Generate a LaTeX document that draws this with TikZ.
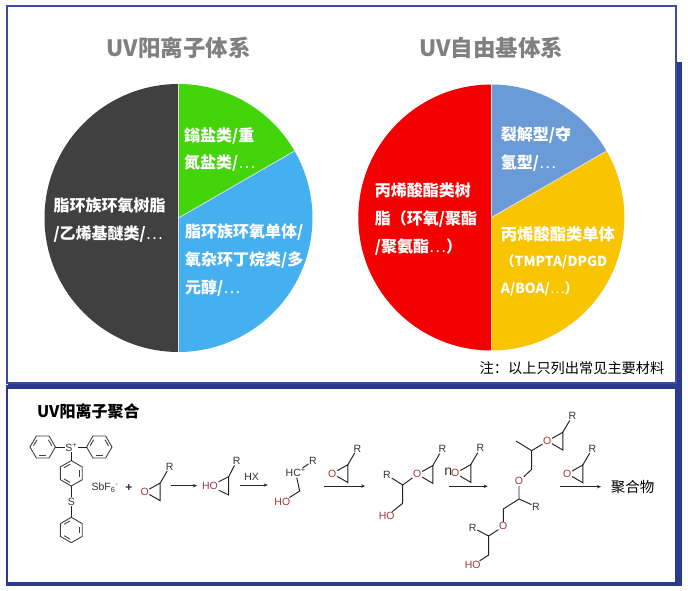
\documentclass[tikz,border=0pt]{standalone}
\usepackage{fontspec}
\setmainfont{Noto Sans CJK SC}
\newfontfamily\chemfont{Liberation Sans}
\usetikzlibrary{arrows.meta,calc}
\definecolor{bandblue}{HTML}{2B3A8C}
\definecolor{framblue}{HTML}{3C4BA6}
\definecolor{bondcol}{HTML}{222222}
\definecolor{oxred}{HTML}{9A3A3A}
\definecolor{slicedark}{HTML}{404040}
\definecolor{slicegreen}{HTML}{44D40A}
\definecolor{sliceblue}{HTML}{45B0F0}
\definecolor{slicered}{HTML}{F50000}
\definecolor{slicesteel}{HTML}{6A9BD6}
\definecolor{sliceyellow}{HTML}{F8C500}
\newcommand{\dotsreg}{{\mdseries ⋯}}
\tikzset{
  slice/.style={draw=white!88!black,line width=0.8pt},
  titletext/.style={font=\fontsize{22.5}{24}\selectfont\bfseries,text=black!50},
  pielabel/.style={anchor=west,inner sep=0pt,align=left,text=white,font=\fontsize{16}{27.8}\selectfont\bfseries},
  bond/.style={draw=bondcol,line width=0.95pt},
  redbond/.style={draw=oxred,line width=0.95pt},
  ring/.style={draw=black!75,line width=0.9pt},
  atom/.style={inner sep=0.6pt,text=black!80,font=\chemfont\fontsize{10.5}{11}\selectfont},
  oxatom/.style={inner sep=0.6pt,text=oxred,font=\chemfont\fontsize{10.5}{11}\selectfont},
  rxarrow/.style={draw=black!85,line width=0.9pt,-{Stealth[length=4pt,width=3.4pt]}},
}
% epoxide: name prefix, position of the O atom
\newcommand{\epoxide}[3]{%
  \begin{scope}[shift={(#2,#3)},name prefix=#1-]
    \node[oxatom] (o) at (0,0) {O};
    \coordinate (a) at (15.5,-8.7);
    \coordinate (b) at (15.5,9);
    \node[atom] (r) at (25,-25) {R};
    \draw[bond] (o) -- (a) -- (b) -- (o);
    \draw[bond] (a) -- (r);
    \draw[redbond] (o) -- ($(o)!.35!(a)$);
    \draw[redbond] (o) -- ($(o)!.35!(b)$);
  \end{scope}}
% phenyl ring: name prefix, centre, rotation
\newcommand{\phenylring}[4]{%
  \begin{scope}[shift={(#2,#3)},name prefix=#1-]
    \foreach \k in {0,...,5}{\coordinate (v\k) at ({60*\k+#4}:12.7);}
    \draw[ring] (v0)--(v1)--(v2)--(v3)--(v4)--(v5)--cycle;
    \foreach \k in {1,3,5}{\draw[ring] ({60*\k+#4+8}:9.2) -- ({60*\k+#4+52}:9.2);}
  \end{scope}}
\begin{document}
\begin{tikzpicture}[x=1pt,y=-1pt]
\useasboundingbox (0,0) rectangle (688,591);
% frames
\fill[bandblue] (676,62) rectangle (682,389);
\fill[bandblue] (8,384) rectangle (682,389);
\fill[white,draw=framblue,line width=1.3pt] (7,6) rectangle (676,383);
\fill[bandblue] (6,385) rectangle (682,586);
\fill[white] (8,389) rectangle (675,582);
% left pie
\node[titletext] (titleL) at (178.7,48) {UV阳离子体系};
\fill[slicedark] (178.5,218) -- (178.5,84) arc[start angle=-90,end angle=-270,radius=134] -- cycle;
\fill[slicegreen] (178.5,218) -- (178.5,84) arc[start angle=-90,end angle=-30,radius=134] -- cycle;
\fill[sliceblue] (178.5,218) -- (294.5,151) arc[start angle=-30,end angle=90,radius=134] -- cycle;
\draw[slice] (178.5,84) -- (178.5,352);
\draw[slice] (178.5,218) -- (294.5,151);
\node[pielabel] (l1) at (53.3,220) {脂环族环氧树脂\\/乙烯基醚类/\dotsreg};
\node[pielabel] (l2) at (184,149.5) {鎓盐类/重\\氮盐类/\dotsreg};
\node[pielabel] (l3) at (185,260) {脂环族环氧单体/\\氧杂环丁烷类/多\\元醇/\dotsreg};
% right pie
\node[titletext] (titleR) at (491.5,48) {UV自由基体系};
\fill[slicered] (491.3,217.5) -- (491.3,84.5) arc[start angle=-90,end angle=-270,radius=133] -- cycle;
\fill[slicesteel] (491.3,217.5) -- (491.3,84.5) arc[start angle=-90,end angle=-30,radius=133] -- cycle;
\fill[sliceyellow] (491.3,217.5) -- (606.5,151) arc[start angle=-30,end angle=90,radius=133] -- cycle;
\draw[slice] (491.3,84.5) -- (491.3,350.5);
\draw[slice] (491.3,217.5) -- (606.5,151);
\node[pielabel] (r1) at (374.7,219) {丙烯酸酯类树\\脂（环氧/聚酯\\/聚氨酯\dotsreg）};
\node[pielabel] (r2) at (500.7,149) {裂解型/夺\\氢型/\dotsreg};
\node[pielabel,font=\fontsize{13.8}{26.5}\selectfont\bfseries] (r3) at (500.7,261) {{\fontsize{16.3}{26.5}\selectfont 丙烯酸酯类单体}\\（TMPTA/DPGD\\A/BOA/\dotsreg）};
\node[inner sep=0pt,anchor=east,font=\fontsize{14.2}{16}\selectfont] (note) at (664.5,368) {注：以上只列出常见主要材料};
% lower panel
\node[inner sep=0pt,anchor=west,font=\fontsize{16}{18}\selectfont\bfseries] (poly) at (37,411.5) {UV阳离子聚合};
% photoinitiator
\phenylring{p1}{42.7}{447}{0}
\phenylring{p2}{99.3}{447}{0}
\phenylring{p3}{71.3}{473.3}{30}
\phenylring{p4}{71.3}{530}{30}
\node[atom] (sp) at (71.3,447) {S\textsuperscript{+}};
\node[atom] (s2) at (71.3,501.7) {S};
\draw[bond] (p1-v0) -- (sp);
\draw[bond] (p2-v3) -- (sp);
\draw[bond] (p3-v4) -- (sp);
\draw[bond] (p3-v1) -- (s2);
\draw[bond] (p4-v4) -- (s2);
\node[atom] (sbf) at (105,488) {SbF\textsubscript{6}\textsuperscript{-}};
\node[atom,font=\chemfont\fontsize{12}{12}\selectfont\bfseries] (plus) at (129,488) {+};
\epoxide{e1}{144.7}{491.7}
\coordinate (a1s) at (171,485.7); \coordinate (a1e) at (197,485.7);
\draw[rxarrow] (a1s) -- (a1e);
% protonated epoxide
\node[oxatom] (e2o) at (210,486) {HO};
\coordinate (e2a) at (228.7,476.7);
\coordinate (e2b) at (228.7,495);
\node[atom] (e2r) at (236.7,461) {R};
\draw[bond] (e2o) -- (e2a) -- (e2b) -- (e2o);
\draw[bond] (e2a) -- (e2r);
\node[atom] (hx) at (251.7,477.3) {HX};
\coordinate (a2s) at (240,485); \coordinate (a2e) at (267.7,485);
\draw[rxarrow] (a2s) -- (a2e);
% carbocation
\node[atom] (hc) at (295.7,472.7) {HC\textsuperscript{+}};
\node[atom] (hcr) at (313,460.7) {R};
\coordinate (hc1) at (299.7,491);
\node[oxatom] (hcoh) at (282.3,502) {HO};
\draw[bond] (hc) -- (hcr);
\draw[bond] (hc) -- (hc1) -- (hcoh);
\epoxide{e3}{332.3}{473.5}
\coordinate (a3s) at (324.3,486); \coordinate (a3e) at (365,486);
\draw[rxarrow] (a3s) -- (a3e);
% dimer
\node[atom] (d1r) at (387,475) {R};
\coordinate (d1c) at (402.7,485);
\coordinate (d1d) at (402.7,503.3);
\node[oxatom] (d1oh) at (386.7,516) {HO};
\epoxide{e4}{417.3}{474.3}
\draw[bond] (d1r) -- (d1c) -- (d1d) -- (d1oh);
\draw[bond] (d1c) -- (e4-o);
\node[atom,font=\chemfont\fontsize{14}{14}\selectfont] (nn) at (448.3,471.5) {n};
\epoxide{e5}{455.3}{473.3}
\coordinate (a4s) at (449,486.3); \coordinate (a4e) at (487.7,486.3);
\draw[rxarrow] (a4s) -- (a4e);
% oligomer
\coordinate (c1) at (516,441);
\coordinate (c2) at (531.7,450.7);
\epoxide{e6}{547.3}{441}
\coordinate (c3) at (531.7,469.3);
\node[oxatom] (o2) at (519,481.3) {O};
\coordinate (c4) at (519,499);
\node[atom] (r2a) at (536,506.7) {R};
\coordinate (c5) at (503.3,509);
\node[oxatom] (o3) at (503.3,526.3) {O};
\coordinate (c6) at (488.7,536);
\node[atom] (r3a) at (472.7,527.7) {R};
\coordinate (c7) at (488.7,555);
\node[oxatom] (oh3) at (472.7,565.3) {HO};
\draw[bond] (c1) -- (c2) -- (e6-o);
\draw[bond] (c2) -- (c3) -- (o2) -- (c4) -- (c5) -- (o3) -- (c6) -- (c7) -- (oh3);
\draw[bond] (c4) -- (r2a);
\draw[bond] (c6) -- (r3a);
\epoxide{e7}{567.3}{473.7}
\coordinate (a5s) at (560,486.7); \coordinate (a5e) at (601,486.7);
\draw[rxarrow] (a5s) -- (a5e);
\node[inner sep=0pt,font=\fontsize{14.5}{16}\selectfont] (prod) at (632.7,487) {聚合物};
\end{tikzpicture}
\end{document}
